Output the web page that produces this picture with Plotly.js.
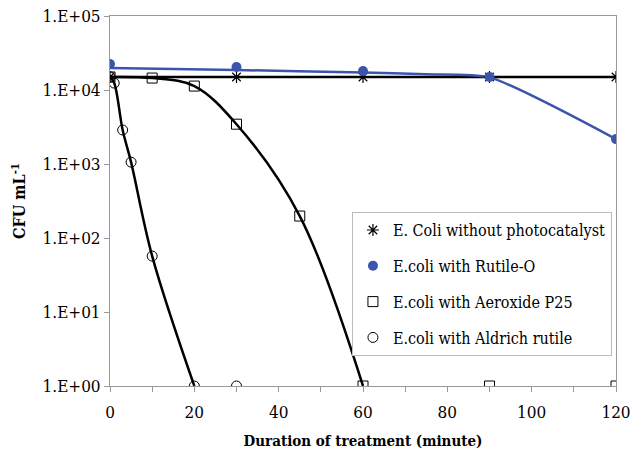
<!DOCTYPE html>
<html>
<head>
<meta charset="utf-8">
<script src="https://cdn.plot.ly/plotly-3.0.1.min.js"></script>
<style>html,body{margin:0;padding:0;background:#fff;}#chart{width:633px;height:453px;}</style>
</head>
<body>
<div id="chart"></div>
<script>
// Data
var names = ["E. Coli without photocatalyst", "E.coli with Rutile-O", "E.coli with Aeroxide P25", "E.coli with Aldrich rutile"];

var ctrlX = [0, 30, 60, 90, 120];
var ctrlY = [15000, 15000, 15000, 15000, 15000];

var rutX = [0, 30, 60, 90, 120];
var rutY = [22400, 20500, 18000, 15000, 2170];
// smoothed trend line of Rutile-O as drawn in the picture
var rutLineX = [0, 30, 60, 75, 90, 120];
var rutLineY = [19800, 18600, 17300, 16300, 14800, 2170];

var p25X = [0, 10, 20, 30, 45, 60, 90, 120];
var p25Y = [15000, 14500, 11300, 3450, 198, 1, 1, 1];
var p25LineCount = 6; // curve drawn through the first six points

var aldX = [0, 1, 3, 5, 10, 20, 30];
var aldY = [15000, 12400, 2880, 1060, 57, 1, 1];
var aldLineCount = 6; // curve drawn through the first six points

var yTickVals = [1, 10, 100, 1000, 10000, 100000];
var yTickText = ["1.E+00", "1.E+01", "1.E+02", "1.E+03", "1.E+04", "1.E+05"];

var blue = "#3b55ad";
var font = "DejaVu Serif Condensed, DejaVu Serif";

var traces = [
  // lines (not in legend)
  {x: ctrlX, y: ctrlY, mode: "lines", line: {color: "#000", width: 2.5}, showlegend: false, hoverinfo: "skip"},
  {x: rutLineX, y: rutLineY, mode: "lines", line: {color: blue, width: 2.5, shape: "spline", smoothing: 0.6}, showlegend: false, hoverinfo: "skip"},
  {x: p25X.slice(0, p25LineCount), y: p25Y.slice(0, p25LineCount), mode: "lines", line: {color: "#000", width: 2.5, shape: "spline", smoothing: 1}, showlegend: false, hoverinfo: "skip"},
  {x: aldX.slice(0, aldLineCount), y: aldY.slice(0, aldLineCount), mode: "lines", line: {color: "#000", width: 2.5, shape: "spline", smoothing: 1}, showlegend: false, hoverinfo: "skip"},
  // markers (legend)
  {x: ctrlX, y: ctrlY, name: names[0], mode: "markers", legendgroup: "a",
   marker: {symbol: "asterisk-open", size: 10, color: "#000", line: {color: "#000", width: 1.2}}},
  {x: rutX, y: rutY, name: names[1], mode: "markers", legendgroup: "b",
   marker: {symbol: "circle", size: 10, color: blue}},
  {x: p25X, y: p25Y, name: names[2], mode: "markers", legendgroup: "c",
   marker: {symbol: "square-open", size: 10, color: "#000", line: {color: "#000", width: 1}}},
  {x: aldX, y: aldY, name: names[3], mode: "markers", legendgroup: "d",
   marker: {symbol: "circle-open", size: 10, color: "#000", line: {color: "#000", width: 1}}}
];

var layout = {
  width: 633, height: 453,
  margin: {l: 110, r: 17, t: 16, b: 67},
  paper_bgcolor: "#fff", plot_bgcolor: "#fff",
  font: {family: font, size: 16, color: "#000"},
  showlegend: true,
  legend: {
    x: 0.992, y: 0.47, xanchor: "right", yanchor: "top",
    bgcolor: "#fff", bordercolor: "#bbb", borderwidth: 1,
    font: {family: font, size: 16, color: "#000"},
    traceorder: "grouped", tracegroupgap: 12,
    itemwidth: 30
  },
  xaxis: {
    range: [0, 120], dtick: 20, tick0: 0,
    ticks: "outside", ticklen: 5, tickcolor: "#999",
    ticklabelstandoff: 6,
    minor: {dtick: 10, ticks: "outside", ticklen: 5, tickcolor: "#999"},
    showgrid: false, zeroline: false,
    showline: true, linecolor: "#999", linewidth: 1, mirror: true,
    tickfont: {family: font, size: 17},
    title: {text: "<b>Duration of treatment (minute)</b>", font: {family: font, size: 15}, standoff: 14}
  },
  yaxis: {
    type: "log", range: [0, 5],
    tickvals: yTickVals, ticktext: yTickText,
    ticks: "outside", ticklen: 5, tickcolor: "#999",
    showgrid: false, zeroline: false,
    showline: true, linecolor: "#999", linewidth: 1, mirror: true,
    tickfont: {family: font, size: 17},
    title: {text: "<b>CFU mL<sup>-1</sup></b>", font: {family: font, size: 16}, standoff: 12}
  }
};

Plotly.newPlot("chart", traces, layout, {displayModeBar: false, staticPlot: true});
</script>
</body>
</html>
